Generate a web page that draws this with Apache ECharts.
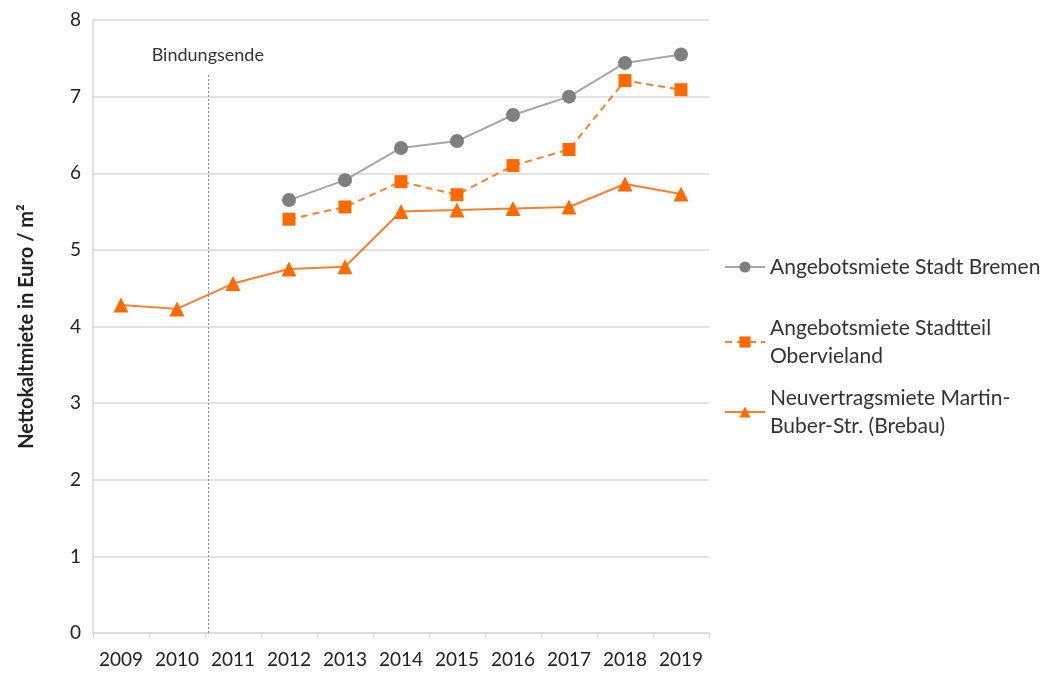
<!DOCTYPE html>
<html>
<head>
<meta charset="utf-8">
<script src="https://cdn.jsdelivr.net/npm/echarts@6/dist/echarts.min.js"></script>
<style>
  html, body { margin: 0; padding: 0; background: #fff; }
  #chart { width: 1052px; height: 675px; }
</style>
</head>
<body>
<div id="chart"></div>
<script>
const years = ['2009', '2010', '2011', '2012', '2013', '2014', '2015', '2016', '2017', '2018', '2019'];
const bremen = [null, null, null, 5.65, 5.91, 6.33, 6.42, 6.76, 7.0, 7.44, 7.55];
const obervieland = [null, null, null, 5.40, 5.56, 5.89, 5.72, 6.10, 6.31, 7.21, 7.09];
const brebau = [4.28, 4.23, 4.56, 4.75, 4.78, 5.50, 5.52, 5.54, 5.56, 5.86, 5.73];
const bindungsende = 2.05; // position between 2010 and 2011

const FONT = 'Lato';
const grey = '#7f7f7f';
const greyLine = '#a6a6a6';
const orange = '#ff6a00';
const orangeLine = '#fb7d2e';

const chart = echarts.init(document.getElementById('chart'));

function legendBox(name, top, twoLines) {
  return {
    data: [name],
    orient: 'vertical',
    left: 719,
    top: top,
    itemWidth: 40,
    itemHeight: 14,
    itemGap: 0,
    formatter: n => n.replace('Stadtteil ', 'Stadtteil\n').replace('Martin-', 'Martin-\n'),
    textStyle: {
      fontFamily: FONT, fontSize: 21, color: '#333', lineHeight: 28,
      padding: twoLines ? [28, 0, 0, 0] : 0
    }
  };
}

chart.setOption({
  animation: false,
  textStyle: { fontFamily: FONT },
  grid: { left: 93, right: 343, top: 20, bottom: 42 },
  legend: [
    legendBox('Angebotsmiete Stadt Bremen', 248, false),
    legendBox('Angebotsmiete Stadtteil Obervieland', 295, true),
    legendBox('Neuvertragsmiete Martin-Buber-Str. (Brebau)', 365, true)
  ],
  xAxis: [{
    type: 'category',
    data: years,
    boundaryGap: true,
    axisLine: { lineStyle: { color: '#d9d9d9', width: 1.5 } },
    axisTick: { show: true, interval: 0, length: 6, lineStyle: { color: '#d9d9d9' } },
    axisLabel: { interval: 0, hideOverlap: false, fontFamily: FONT, fontSize: 19, color: '#222', margin: 17 }
  }, {
    type: 'value',
    min: 0,
    max: years.length,
    show: false
  }],
  yAxis: {
    type: 'value',
    min: 0,
    max: 8,
    interval: 1,
    name: 'Nettokaltmiete in Euro / m²',
    nameLocation: 'middle',
    nameGap: 56,
    nameTextStyle: { fontFamily: FONT, fontSize: 20, fontWeight: 'bold', color: '#222' },
    axisLine: { show: true, lineStyle: { color: '#d9d9d9', width: 1.5 } },
    axisTick: { show: false },
    axisLabel: { fontFamily: FONT, fontSize: 19, color: '#222', margin: 12 },
    splitLine: { lineStyle: { color: '#d9d9d9', width: 1.5 } }
  },
  series: [{
    name: 'Angebotsmiete Stadt Bremen',
    type: 'line',
    data: bremen,
    symbol: 'circle',
    symbolSize: 14,
    itemStyle: { color: grey },
    lineStyle: { color: greyLine, width: 2 }
  }, {
    name: 'Angebotsmiete Stadtteil Obervieland',
    type: 'line',
    data: obervieland,
    symbol: 'rect',
    symbolSize: 13,
    itemStyle: { color: orange },
    lineStyle: { color: orangeLine, width: 2, type: [7, 5] }
  }, {
    name: 'Neuvertragsmiete Martin-Buber-Str. (Brebau)',
    type: 'line',
    data: brebau,
    symbol: 'triangle',
    symbolSize: 15,
    itemStyle: { color: orange },
    lineStyle: { color: orangeLine, width: 2 }
  }, {
    name: 'Bindungsende',
    type: 'line',
    xAxisIndex: 1,
    data: [],
    silent: true,
    markLine: {
      symbol: 'none',
      silent: true,
      lineStyle: { color: '#888', type: [2, 2], width: 1 },
      label: {
        show: true, position: 'end', distance: 9,
        formatter: 'Bindungsende',
        fontFamily: FONT, fontSize: 18, color: '#333'
      },
      data: [[{ coord: [bindungsende, 0] }, { coord: [bindungsende, 7.3] }]]
    }
  }]
});
</script>
</body>
</html>
